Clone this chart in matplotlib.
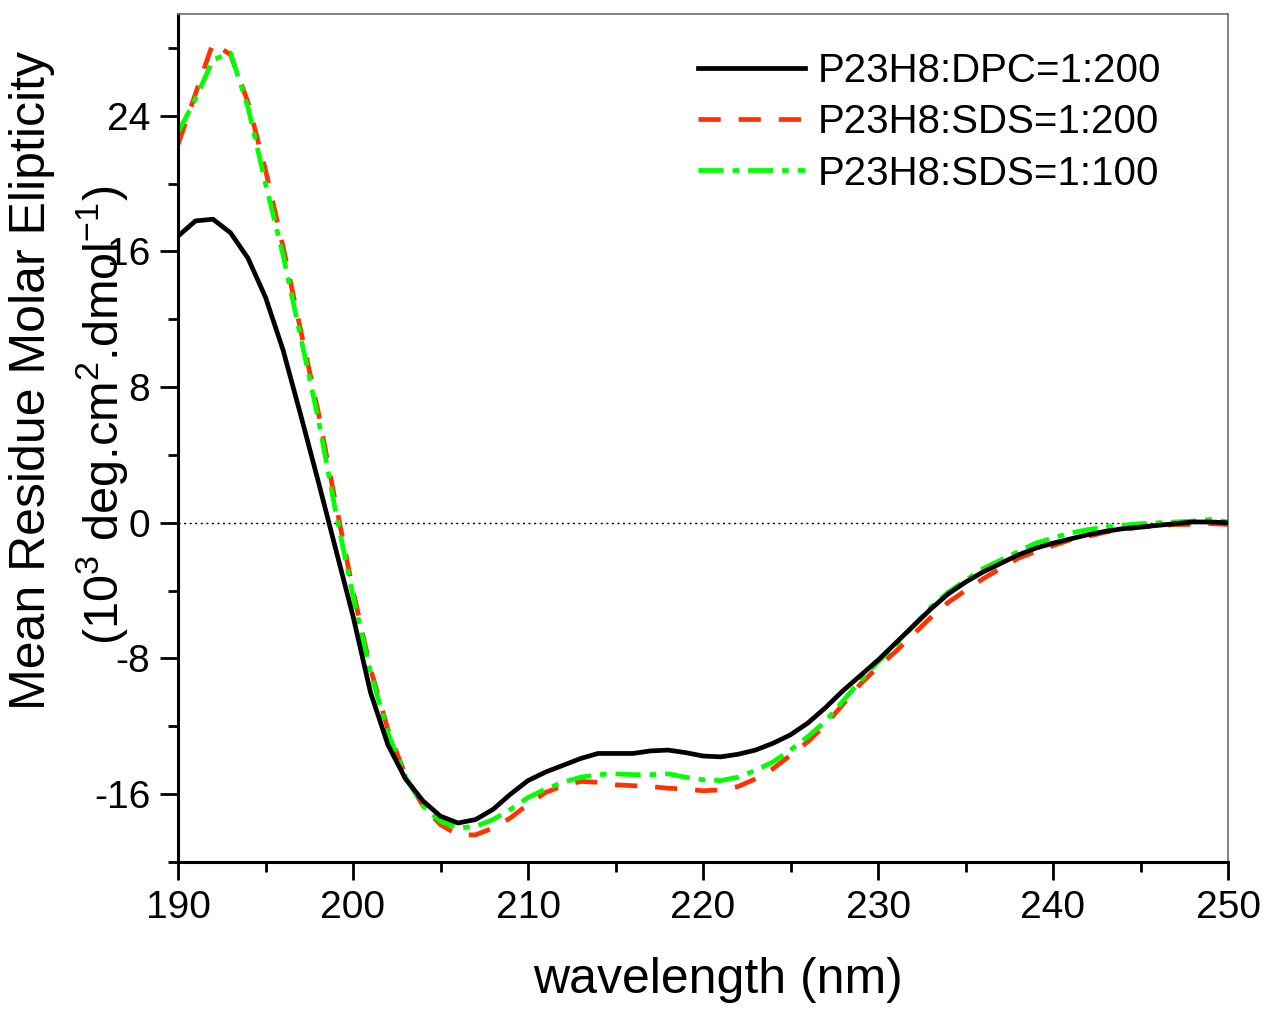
import matplotlib
matplotlib.use("Agg")
import matplotlib.pyplot as plt
import numpy as np
from matplotlib.ticker import MultipleLocator

wavelength = list(range(190, 251))

dpc_1_200 = [16.9, 17.8, 17.9, 17.1, 15.6, 13.3, 10.2, 6.4, 2.5, -1.5,
             -5.5, -10.0, -13.1, -15.1, -16.4, -17.3, -17.7, -17.5, -16.9, -16.0,
             -15.2, -14.7, -14.3, -13.9, -13.6, -13.6, -13.6, -13.45, -13.4, -13.55,
             -13.75, -13.8, -13.65, -13.4, -13.0, -12.5, -11.8, -10.9, -9.9, -9.0,
             -8.1, -7.1, -6.1, -5.1, -4.2, -3.5, -2.9, -2.4, -1.9, -1.5,
             -1.2, -0.95, -0.7, -0.5, -0.35, -0.25, -0.15, -0.05, 0.05, 0.05,
             0.0]

sds_1_200 = [22.3, 25.3, 28.3, 27.6, 24.8, 20.8, 16.3, 11.4, 6.6, 1.2,
             -4.0, -8.6, -12.2, -14.9, -16.7, -17.8, -18.4, -18.4, -18.0, -17.4,
             -16.6, -15.9, -15.5, -15.25, -15.3, -15.45, -15.5, -15.55, -15.65, -15.7,
             -15.8, -15.75, -15.55, -15.1, -14.5, -13.7, -12.9, -11.9, -10.7, -9.5,
             -8.5, -7.6, -6.6, -5.6, -4.7, -4.0, -3.3, -2.7, -2.1, -1.7,
             -1.35, -1.0, -0.8, -0.55, -0.4, -0.25, -0.2, -0.1, -0.1, -0.05,
             -0.1]

sds_1_100 = [23.0, 25.0, 27.3, 27.7, 24.5, 20.0, 15.8, 11.0, 6.2, 0.7,
             -4.3, -8.8, -12.4, -15.0, -16.7, -17.6, -18.0, -17.9, -17.5, -16.9,
             -16.2, -15.7, -15.3, -15.0, -14.85, -14.8, -14.85, -14.85, -14.8, -15.0,
             -15.15, -15.2, -15.0, -14.6, -14.1, -13.4, -12.6, -11.7, -10.5, -9.3,
             -8.2, -7.2, -6.1, -5.0, -4.1, -3.4, -2.7, -2.2, -1.7, -1.2,
             -0.9, -0.6, -0.4, -0.25, -0.15, -0.05, 0.0, 0.05, 0.1, 0.2,
             0.05]

labels = ["P23H8:DPC=1:200", "P23H8:SDS=1:200", "P23H8:SDS=1:100"]
xticks = [190, 200, 210, 220, 230, 240, 250]
yticks = [-16, -8, 0, 8, 16, 24]

plt.rcParams['font.family'] = ['Liberation Sans', 'DejaVu Sans']
plt.rcParams['mathtext.fontset'] = 'custom'
plt.rcParams['mathtext.rm'] = 'Liberation Sans'
plt.rcParams['mathtext.it'] = 'Liberation Sans'
plt.rcParams['mathtext.bf'] = 'Liberation Sans'
plt.rcParams['axes.unicode_minus'] = False

W, H = 1269, 1017
fig = plt.figure(figsize=(W / 100, H / 100), dpi=100)
ax = fig.add_axes([178 / W, 1 - 862 / H, (1228 - 178) / W, (862 - 14) / H])

lw = 3.4
ax.axhline(0, color='black', lw=1.0, ls=(0, (1.5, 2.5)), zorder=1)
ax.plot(wavelength, dpc_1_200, color='black', lw=lw, ls='-', label=labels[0], zorder=3)
ax.plot(wavelength, sds_1_200, color='#FF3300', lw=lw, ls=(0, (4.7, 3.8)), label=labels[1], zorder=2)
ax.plot(wavelength, sds_1_100, color='#00FF00', lw=lw, ls=(0, (5.3, 1.9, 1.4, 1.9)), label=labels[2], zorder=2)

ax.set_xlim(190, 250)
ax.set_ylim(-20, 30)
ax.set_xticks(xticks)
ax.set_yticks(yticks)
ax.xaxis.set_minor_locator(MultipleLocator(5))
ax.yaxis.set_minor_locator(MultipleLocator(4))
ax.tick_params(axis='both', which='major', direction='out', length=13, width=2.0,
               labelsize=28, pad=7, colors='black')
ax.tick_params(axis='both', which='minor', direction='out', length=7, width=2.0)
ax.tick_params(top=False, right=False, which='both')

for s in ['left', 'bottom']:
    ax.spines[s].set_linewidth(2.2)
    ax.spines[s].set_color('black')
for s in ['top', 'right']:
    ax.spines[s].set_linewidth(1.3)
    ax.spines[s].set_color('#777777')

ax.set_xlabel('wavelength (nm)', fontsize=36)
ax.xaxis.set_label_coords((718 - 178) / 1050, -(1003 - 862) / 848, transform=ax.transAxes)
ax.xaxis.label.set_va('bottom')

fig.text(32 / W, 1 - 380 / H, 'Mean Residue Molar Elipticity', rotation=90,
         fontsize=36, ha='center', va='center')
fig.text(102 / W, 1 - 415 / H, r'(10$^{3}$ deg.cm$^{2}$.dmol$^{-1}$)', rotation=90,
         fontsize=35, ha='center', va='center')

leg = ax.legend(loc='upper left', bbox_to_anchor=(698 / W, 1 - 52 / H),
                bbox_transform=fig.transFigure, frameon=False, fontsize=29,
                handlelength=2.65, handletextpad=0.33, labelspacing=0.33,
                borderpad=0, borderaxespad=0)

fig.savefig('out.png', dpi=100)
